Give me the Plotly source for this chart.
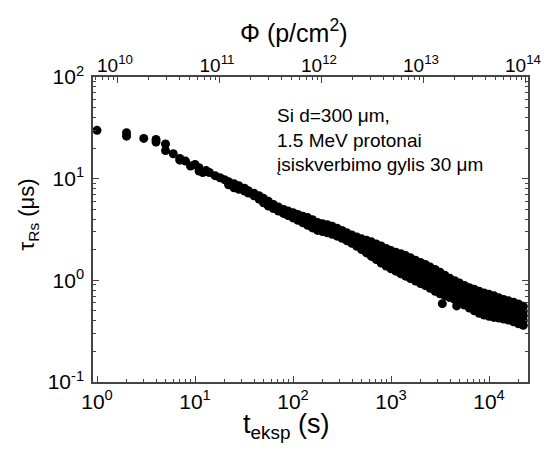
import plotly.graph_objects as go

# ---- data ----
# early, well separated measurements
early_t = [1, 2, 2, 3, 4, 4, 5, 5, 6, 7, 7, 8, 9, 10, 11, 11, 12]
early_tau = [29.9, 28.3, 26.2, 24.9, 24.3, 22.9, 21.9, 18.9, 17.6, 15.8, 15.2, 14.9, 13.3, 13.8, 12.8, 11.9, 11.5]

# dense band: for each time, the lifetimes read across the band
band_t = [13, 14, 16, 18, 20, 22, 25, 28, 32, 35, 40, 45, 50, 56, 63, 71, 80, 89,
          100, 112, 126, 141, 158, 178, 200, 224, 251, 282, 316, 355, 398, 447, 501,
          562, 631, 708, 794, 891, 1000, 1120, 1260, 1410, 1580, 1780, 2000, 2240,
          2510, 2820, 3160, 3550, 3980, 4470, 5010, 5620, 6310, 7080, 7940, 8910,
          10000, 11200, 12600, 14100, 15800, 17800, 20000, 22400]
band_tau = [
    [12.0], [11.5], [10.7], [10.2], [9.77],
    [9.33, 8.71], [8.91, 8.13], [8.51, 7.85], [8.04, 7.55], [7.60, 7.21],
    [7.18, 6.78], [6.79, 6.31], [6.40, 5.79], [6.00, 5.37], [5.58, 5.08],
    [5.26, 4.81], [4.98, 4.55], [4.81, 4.33], [4.62, 4.11], [4.44, 3.89],
    [4.28, 3.96, 3.68], [4.14, 3.80, 3.48], [3.94, 3.60, 3.28], [3.71, 3.39, 3.10],
    [3.61, 3.30, 3.02], [3.52, 3.22, 2.94], [3.40, 3.11, 2.84], [3.26, 2.98, 2.72],
    [3.10, 2.83, 2.59], [2.93, 2.68, 2.45], [2.79, 2.54, 2.31], [2.67, 2.40, 2.16],
    [2.56, 2.27, 2.01], [2.48, 2.25, 2.05, 1.86], [2.39, 2.14, 1.92, 1.72],
    [2.28, 2.02, 1.80, 1.60], [2.18, 1.91, 1.68, 1.48],
    [2.06, 1.87, 1.69, 1.53, 1.38], [1.96, 1.77, 1.60, 1.44, 1.30],
    [1.89, 1.70, 1.52, 1.37, 1.23], [1.83, 1.63, 1.46, 1.30, 1.16],
    [1.75, 1.56, 1.39, 1.24, 1.10], [1.67, 1.52, 1.38, 1.26, 1.14, 1.04],
    [1.58, 1.44, 1.31, 1.19, 1.08, 0.984], [1.50, 1.36, 1.24, 1.12, 1.02, 0.931],
    [1.43, 1.30, 1.18, 1.07, 0.975, 0.887], [1.35, 1.23, 1.11, 1.01, 0.918, 0.834],
    [1.28, 1.16, 1.05, 0.951, 0.861, 0.780], [1.20, 1.09, 0.986, 0.895, 0.813, 0.738],
    [1.12, 0.995, 0.887, 0.789, 0.703], [1.05, 0.942, 0.843, 0.755, 0.676],
    [0.993, 0.891, 0.800, 0.719, 0.646], [0.940, 0.843, 0.757, 0.681, 0.611],
    [0.889, 0.796, 0.713, 0.638, 0.571], [0.845, 0.753, 0.671, 0.598, 0.533],
    [0.815, 0.740, 0.671, 0.608, 0.552, 0.501], [0.783, 0.710, 0.641, 0.581, 0.525, 0.475],
    [0.750, 0.679, 0.615, 0.556, 0.504, 0.456], [0.728, 0.659, 0.597, 0.540, 0.489, 0.443],
    [0.706, 0.640, 0.579, 0.526, 0.476, 0.432], [0.673, 0.600, 0.535, 0.476, 0.425],
    [0.649, 0.581, 0.519, 0.465, 0.416], [0.628, 0.564, 0.506, 0.454, 0.407],
    [0.608, 0.545, 0.488, 0.437, 0.391], [0.585, 0.522, 0.468, 0.418, 0.374],
    [0.555, 0.498, 0.448, 0.402, 0.361],
]

# isolated points below the band
outlier_t = [3340, 4680]
outlier_tau = [0.59, 0.56]

# ---- axes / text ----
x_major = [1, 10, 100, 1000, 10000]
x_labels = ["10<sup>0</sup>", "10<sup>1</sup>", "10<sup>2</sup>", "10<sup>3</sup>", "10<sup>4</sup>"]
y_major = [0.1, 1, 10, 100]
y_labels = ["10<sup>-1</sup>", "10<sup>0</sup>", "10<sup>1</sup>", "10<sup>2</sup>"]
phi_major = [1e10, 1e11, 1e12, 1e13, 1e14]
phi_labels = ["10<sup>10</sup>", "10<sup>11</sup>", "10<sup>12</sup>", "10<sup>13</sup>", "10<sup>14</sup>"]
note = "Si d=300 μm,<br>1.5 MeV protonai<br>įsiskverbimo gylis 30 μm"

# flatten
xs, ys = list(early_t), list(early_tau)
for t, col in zip(band_t, band_tau):
    for v in col:
        xs.append(t)
        ys.append(v)
xs += outlier_t
ys += outlier_tau


def minors(decade_starts):
    out = []
    for d in decade_starts:
        out += [k * d for k in range(2, 10)]
    return out


FONT = "Liberation Sans, Arial, sans-serif"
AX = "#444"

fig = go.Figure()
fig.add_trace(go.Scatter(x=xs, y=ys, mode="markers",
                         marker=dict(color="black", size=9, line=dict(width=0)),
                         showlegend=False, hoverinfo="skip"))
# empty trace that only attaches the fluence (top) axis; it draws nothing
fig.add_trace(go.Scatter(x=phi_major, y=[None] * len(phi_major), xaxis="x2", yaxis="y",
                         mode="markers", showlegend=False, hoverinfo="skip"))

fig.update_layout(
    width=544, height=454,
    margin=dict(l=93, r=16, t=77, b=72, autoexpand=False),
    paper_bgcolor="white", plot_bgcolor="white",
    font=dict(family=FONT, color="black"),
    xaxis=dict(type="log", range=[-0.041, 4.398], showgrid=False, zeroline=False,
               showline=True, linecolor=AX, linewidth=1.5, mirror=True, automargin=False,
               ticks="inside", ticklen=6, tickcolor=AX, tickwidth=1,
               tickmode="array", tickvals=x_major, ticktext=x_labels,
               tickfont=dict(size=21, family=FONT),
               minor=dict(ticks="inside", ticklen=3, tickcolor=AX, tickmode="array",
                          tickvals=minors([1, 10, 100, 1000, 10000]), showgrid=False)),
    xaxis2=dict(type="log", range=[9.755, 14.02], overlaying="x", side="top", anchor="y",
                showgrid=False, zeroline=False, showline=False, automargin=False,
                ticks="inside", ticklen=6, tickcolor=AX, tickwidth=1,
                tickmode="array", tickvals=phi_major, ticktext=phi_labels,
                tickfont=dict(size=19, family=FONT), ticklabeloverflow="allow",
                ticklabelshift=-3,
                minor=dict(ticks="inside", ticklen=3, tickcolor=AX, tickmode="array",
                           tickvals=minors([1e9, 1e10, 1e11, 1e12, 1e13]), showgrid=False)),
    yaxis=dict(type="log", range=[-1, 2], showgrid=False, zeroline=False,
               showline=True, linecolor=AX, linewidth=1.5, mirror="ticks", automargin=False,
               ticks="inside", ticklen=6, tickcolor=AX, tickwidth=1,
               tickmode="array", tickvals=y_major, ticktext=y_labels,
               tickfont=dict(size=21, family=FONT), ticklabelstandoff=3,
               minor=dict(ticks="inside", ticklen=3, tickcolor=AX, tickmode="array",
                          tickvals=minors([0.1, 1, 10]), showgrid=False)),
)

fig.add_annotation(text=note, xref="paper", yref="paper", x=0.418, y=0.795,
                   xanchor="left", yanchor="middle", align="left", showarrow=False,
                   font=dict(size=19, family=FONT, color="black"))
fig.add_annotation(text="t<sub>eksp</sub> (s)", xref="paper", yref="paper",
                   x=0.444, y=-0.145, xanchor="center", yanchor="middle", showarrow=False,
                   font=dict(size=27, family=FONT, color="black"))
fig.add_annotation(text="Φ (p/cm<sup>2</sup>)", xref="paper", yref="paper",
                   x=0.46, y=1.15, xanchor="center", yanchor="middle", showarrow=False,
                   font=dict(size=25, family=FONT, color="black"))
fig.add_annotation(text="τ<sub>Rs</sub> (μs)", xref="paper", yref="paper",
                   x=-0.149, y=0.55, xanchor="center", yanchor="middle", showarrow=False,
                   textangle=-90, font=dict(size=22, family=FONT, color="black"))

fig.write_html("out.html")
